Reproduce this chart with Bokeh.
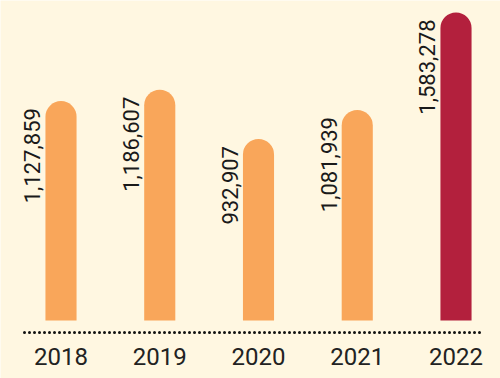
from bokeh.plotting import figure
from bokeh.models import ColumnDataSource, Range1d
from bokeh.core.properties import value
from bokeh.embed import file_html
from bokeh.resources import INLINE

years = ["2018", "2019", "2020", "2021", "2022"]
visitors = [1127859, 1186607, 932907, 1081939, 1583278]
labels = ["1,127,859", "1,186,607", "932,907", "1,081,939", "1,583,278"]
colors = ["#F9A65A", "#F9A65A", "#F9A65A", "#F9A65A", "#B3203D"]

BG = "#FFF7E1"
W, H = 500, 378
bar_w = 0.315
slot_px = 98.75          # px between bar centres
first_px = 60.5          # px from left to first bar centre
base_px = 320            # px from top to bar base
top_px = 12              # px from top to tallest bar
upp = max(visitors) / (base_px - top_px)   # data units per pixel

xs = list(range(len(years)))
src = ColumnDataSource(dict(
    x=xs, top=visitors, color=colors, label=labels, year=years,
    lx=[x - bar_w / 2 for x in xs], zero=[0] * len(xs),
))

p = figure(width=W, height=H, output_backend="svg", toolbar_location=None,
           x_range=Range1d(-first_px / slot_px, (W - first_px) / slot_px),
           y_range=Range1d(-(H - base_px) * upp, base_px * upp),
           min_border=0, background_fill_color=BG, border_fill_color=BG)
p.outline_line_color = None
p.grid.visible = False
p.axis.visible = False

p.vbar(x="x", top="top", bottom=0, width=bar_w, fill_color="color",
       line_color=None, border_radius=(16, 16, 0, 0), source=src)

p.text(x="lx", y="top", text="label", source=src, angle=1.5708,
       text_align="right", text_baseline="middle",
       x_offset=-13, y_offset=7,
       text_font=value("Roboto"), text_font_size="22px",
       text_color="#1a1a1a")

# dotted baseline
line_y = -12 * upp
p.segment(x0=[(24 - first_px) / slot_px], x1=[(483 - first_px) / slot_px],
          y0=[line_y], y1=[line_y], line_color="#111111", line_width=3,
          line_dash=value("0 5"), line_cap="round")

p.text(x="x", y="zero", text="year", source=src, y_offset=36,
       text_align="center", text_baseline="middle",
       text_font=value("Roboto"), text_font_size="24px",
       text_color="#222222")

html = file_html(p, INLINE)
with open("out.html", "w") as f:
    f.write(html)
